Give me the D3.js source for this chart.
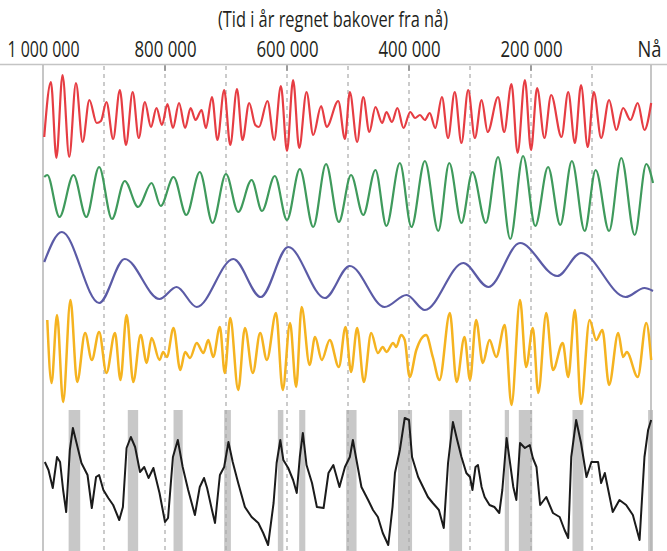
<!DOCTYPE html>
<html><head><meta charset="utf-8">
<script src="https://cdn.jsdelivr.net/npm/d3@7"></script>
<style>
body{margin:0;background:#fff}
svg{display:block}
text{font-family:"Open Sans","Noto Sans",sans-serif;fill:#231f20}
</style>
</head><body>
<svg id="c" width="667" height="551"></svg>
<script>
// ---- data (time in kyr before present, values in relative units per curve) ----
const title = "(Tid i år regnet bakover fra nå)";
const tickValues = [1000, 800, 600, 400, 200, 0];
const tickLabels = ["1 000 000", "800 000", "600 000", "400 000", "200 000", "Nå"];
const gridValues = [900, 800, 700, 600, 500, 400, 300, 200, 100];
const majorTicks = [800, 600, 400, 200];

const precession = [[998,-20],[987,35],[978,-41],[968,42],[957,-40],[946,34],[935,-25],[924,17],[912,-6],[905,-4],[896,15],[885,-22],[874,27],[864,-28],[853,25],[843,-21],[833,15],[823,-10],[814,9],[805,-8],[796,13],[787,-11],[777,14],[767,-11],[758,9],[750,-3],[740,7],[733,-11],[723,20],[714,-23],[703,27],[693,-28],[682,28],[673,-23],[662,14],[652,-8],[646,-10],[632,16],[621,-23],[610,31],[600,-34],[590,37],[580,-31],[568,25],[557,-18],[544,11],[535,-10],[516,16],[505,-22],[497,25],[485,-25],[475,20],[465,-15],[455,10],[444,-6],[437,5],[428,-5],[419,9],[409,-11],[398,5],[390,-1],[382,2],[374,-3],[366,4],[357,-11],[346,20],[336,-21],[325,25],[314,-26],[303,27],[292,-21],[281,17],[271,-15],[254,20],[244,-15],[232,33],[222,-36],[210,37],[200,-33],[190,29],[178,-21],[167,22],[150,-20],[139,25],[128,-26],[118,32],[107,-30],[97,25],[85,-21],[72,17],[60,-13],[49,9],[37,-3],[25,14],[14,-13],[3,14]];

const obliquity = [[998,21],[993,23],[973,-19],[950,23],[929,-19],[908,31],[887,-21],[866,17],[844,-9],[822,15],[807,-8],[786,21],[765,-17],[743,26],[722,-25],[700,24],[680,-14],[658,18],[641,-13],[620,22],[600,-22],[579,29],[557,-29],[536,34],[515,-24],[495,23],[475,-17],[455,28],[437,-28],[415,35],[396,-29],[374,37],[352,-33],[334,35],[314,-25],[296,26],[274,-25],[254,41],[234,-41],[213,42],[193,-28],[172,31],[152,-27],[133,37],[112,-33],[94,28],[72,-33],[52,40],[30,-37],[11,34],[0,15]];

const eccentricity = [[998,53],[969,83],[908,12],[866,56],[809,16],[781,28],[748,8],[688,56],[643,18],[598,68],[538,17],[497,49],[440,8],[404,20],[374,5],[311,52],[270,28],[218,72],[157,39],[118,62],[45,18],[14,27],[0,24]];

const insolation = [[993,30],[986,-33],[977,35],[967,-52],[955,50],[944,-32],[931,17],[920,-10],[908,18],[896,-23],[882,17],[873,-30],[863,35],[852,-32],[840,15],[830,-13],[822,12],[809,-10],[803,-2],[797,-7],[786,22],[775,-20],[767,-2],[759,-8],[748,7],[737,-3],[729,10],[721,-7],[710,23],[702,-23],[693,32],[680,-40],[669,22],[656,-23],[644,17],[633,-10],[618,37],[607,-40],[595,27],[585,-37],[576,43],[563,-15],[554,13],[543,-10],[530,10],[515,-17],[504,23],[495,-22],[485,22],[474,-32],[462,17],[451,-3],[443,3],[437,-2],[426,7],[421,3],[413,15],[407,10],[399,-27],[388,0],[372,15],[361,-7],[350,-30],[333,37],[322,-32],[309,13],[300,-30],[290,30],[279,-13],[268,10],[257,-7],[243,25],[232,-55],[218,50],[208,-17],[197,22],[188,-43],[175,37],[164,-20],[148,7],[139,-27],[128,40],[118,-54],[104,30],[93,10],[83,20],[72,-35],[57,17],[49,-7],[43,-2],[25,-27],[11,27],[3,-10]];

const temperature = [[997,18],[991,10],[984,-8],[977,23],[972,18],[967,-10],[962,-32],[956,30],[951,52],[945,37],[937,17],[927,5],[920,-28],[913,3],[908,5],[901,-10],[893,-18],[885,-25],[875,-40],[869,-27],[863,32],[856,43],[849,33],[841,8],[834,13],[827,2],[819,12],[809,-13],[800,-42],[795,-38],[787,23],[779,40],[771,13],[762,-10],[751,-35],[743,-7],[736,2],[731,-8],[723,-30],[718,-43],[710,5],[703,13],[696,38],[689,18],[680,-3],[669,-27],[658,-37],[647,-43],[639,-53],[631,-65],[622,-23],[617,17],[611,40],[606,20],[598,12],[590,0],[584,-13],[579,23],[574,47],[568,15],[559,-3],[551,-27],[540,-28],[532,7],[524,15],[514,-7],[505,13],[497,23],[492,40],[487,23],[478,-7],[467,-20],[459,-30],[451,-37],[443,-53],[434,-65],[427,-27],[423,7],[415,30],[407,62],[400,60],[395,23],[385,3],[377,-7],[369,-17],[361,-23],[351,-30],[343,-48],[336,17],[328,58],[321,40],[314,23],[306,7],[300,3],[296,-10],[291,13],[287,15],[281,-7],[276,-17],[268,-25],[260,-27],[252,-33],[247,-10],[240,42],[235,20],[229,-7],[224,-20],[218,37],[210,32],[202,35],[197,22],[191,13],[185,-25],[175,-17],[164,-33],[153,-37],[145,-50],[139,-58],[134,23],[126,60],[118,37],[109,3],[101,18],[90,18],[85,-3],[79,7],[71,-17],[66,-32],[55,-20],[44,-25],[33,-35],[22,-60],[14,23],[8,50],[3,60]];

const interglacials = [[958,939],[861,844],[786,771],[703,692],[615,606],[580,570],[503,486],[418,395],[334,313],[243,236],[220,198],[132,114],[8,0]];

// ---- drawing ----
const svg = d3.select("#c");
const W = 667, H = 551;
const x = d3.scaleLinear().domain([1000, 0]).range([43, 653]);

const yPrec = d3.scaleLinear().domain([-50, 50]).range([167, 67]);
const yObl  = d3.scaleLinear().domain([-50, 50]).range([248, 148]);
const yEcc  = d3.scaleLinear().domain([0, 100]).range([315, 215]);
const yIns  = d3.scaleLinear().domain([-50, 50]).range([400, 300]);
const yTmp  = d3.scaleLinear().domain([-50, 50]).range([530, 430]);
const barTop = 410;

svg.append("g").selectAll("rect").data(interglacials).join("rect")
  .attr("x", d => x(d[0])).attr("width", d => x(d[1]) - x(d[0]))
  .attr("y", barTop).attr("height", H - barTop)
  .attr("fill", "#c8c8c8");

svg.append("g").selectAll("line").data(gridValues).join("line")
  .attr("x1", d => x(d)).attr("x2", d => x(d))
  .attr("y1", 66).attr("y2", H)
  .attr("stroke", "#a9a9a9").attr("stroke-width", 1.2)
  .attr("stroke-dasharray", "4,4");

svg.append("g").selectAll("line").data(majorTicks).join("line")
  .attr("x1", d => x(d)).attr("x2", d => x(d))
  .attr("y1", 65).attr("y2", 71)
  .attr("stroke", "#8a8a8a").attr("stroke-width", 1.5);

svg.append("line").attr("x1", 0).attr("x2", W).attr("y1", 64.5).attr("y2", 64.5)
  .attr("stroke", "#c4c4c4").attr("stroke-width", 1.5);
svg.append("line").attr("x1", x(1000)).attr("x2", x(1000)).attr("y1", 65).attr("y2", H)
  .attr("stroke", "#b3b3b3").attr("stroke-width", 1.5);
svg.append("line").attr("x1", x(0) - 2).attr("x2", x(0) - 2).attr("y1", 65).attr("y2", H)
  .attr("stroke", "#b3b3b3").attr("stroke-width", 1.5);

const smooth = (ys) => d3.line().x(d => x(d[0])).y(d => ys(d[1])).curve(d3.curveMonotoneX);
const series = [
  {data: precession, y: yPrec, color: "#e63d43", w: 2.2},
  {data: obliquity, y: yObl, color: "#3f9a5c", w: 2.2},
  {data: eccentricity, y: yEcc, color: "#5b5ba6", w: 2.2},
  {data: insolation, y: yIns, color: "#f5b320", w: 2.5},
];
series.forEach(s => {
  svg.append("path").datum(s.data)
    .attr("d", smooth(s.y))
    .attr("fill", "none").attr("stroke", s.color)
    .attr("stroke-width", s.w).attr("stroke-linejoin", "round");
});
svg.append("path").datum(temperature)
  .attr("d", d3.line().x(d => x(d[0])).y(d => yTmp(d[1])))
  .attr("fill", "none").attr("stroke", "#1b1b1b")
  .attr("stroke-width", 2).attr("stroke-linejoin", "round");

const labelWidth = t => t === "Nå" ? 24 : t.length > 7 ? 72 : 62;
const axis = d3.axisTop(x).tickValues(tickValues)
  .tickFormat((d, i) => tickLabels[i]).tickSize(0).tickPadding(0);
svg.append("g").attr("transform", "translate(0,57)").call(axis)
  .call(g => g.select(".domain").remove())
  .call(g => g.selectAll("text")
      .attr("font-size", 21)
      .attr("font-family", '"Open Sans","Noto Sans",sans-serif')
      .attr("fill", "#231f20")
      .attr("dx", d => d === 0 ? -4 : 0)
      .attr("textLength", (d, i) => labelWidth(tickLabels[i]))
      .attr("lengthAdjust", "spacingAndGlyphs"));

svg.append("text").attr("x", 333).attr("y", 27)
  .attr("text-anchor", "middle").attr("font-size", 21)
  .attr("textLength", 230).attr("lengthAdjust", "spacingAndGlyphs")
  .text(title);
</script>
</body></html>
